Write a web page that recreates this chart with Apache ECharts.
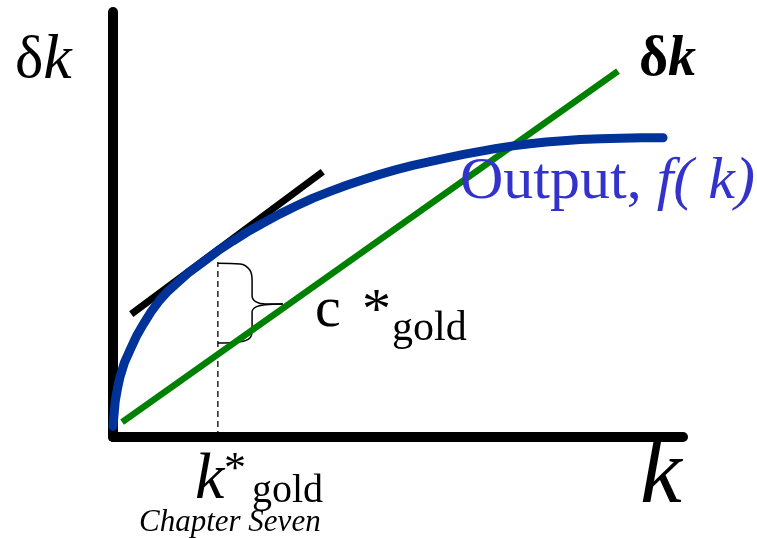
<!DOCTYPE html>
<html>
<head>
<meta charset="utf-8">
<script src="https://cdn.jsdelivr.net/npm/echarts@6/dist/echarts.min.js"></script>
<style>
  html, body { margin: 0; padding: 0; background: #fff; }
  #chart { width: 757px; height: 538px; }
</style>
</head>
<body>
<div id="chart"></div>
<script>
// ---------------- data (axis units: k 0..10, y 0..10)
var outputK = [0, 0.04, 0.08, 0.12, 0.20, 0.30, 0.41, 0.53, 0.67, 0.82, 0.97, 1.12, 1.32, 1.53, 1.84, 2.10, 2.35, 2.64, 2.93, 3.22, 3.51, 3.81, 4.11, 4.40, 4.68, 4.97, 5.26, 5.56, 5.86, 6.15, 6.44, 6.73, 7.02, 7.31, 7.60, 7.90, 8.19, 8.55, 8.90, 9.28, 9.65];
var outputY = [0.25, 0.85, 1.15, 1.40, 1.75, 2.05, 2.37, 2.65, 2.95, 3.22, 3.44, 3.62, 3.86, 4.07, 4.38, 4.61, 4.82, 5.04, 5.25, 5.44, 5.62, 5.78, 5.93, 6.06, 6.18, 6.29, 6.39, 6.48, 6.57, 6.65, 6.72, 6.79, 6.85, 6.90, 6.94, 6.97, 7.00, 7.02, 7.03, 7.04, 7.04];

var deltaK = [0.16, 8.86];
var deltaY = [0.35, 8.61];

var tangentK = [0.32, 3.68];
var tangentY = [2.89, 6.24];

var goldK = [1.84, 1.84];
var goldY = [0, 4.12];

var braceUpperK = [1.84, 2.23, 2.40, 2.44, 2.44, 2.51, 2.67, 2.98];
var braceUpperY = [4.09, 4.07, 3.93, 3.69, 3.32, 3.18, 3.13, 3.13];
var braceLowerK = [2.98, 2.67, 2.51, 2.44, 2.44, 2.40, 2.23, 1.84];
var braceLowerY = [3.13, 3.11, 3.06, 2.94, 2.52, 2.33, 2.24, 2.21];

function zip(xs, ys) {
    return xs.map(function (x, i) { return [x, ys[i]]; });
}

var dom = document.getElementById('chart');
var myChart = echarts.init(dom, null, { renderer: 'canvas' });

var serif = '"Liberation Serif", "DejaVu Serif", serif';

function lineSeries(data, color, width, extra) {
    var s = {
        type: 'line',
        data: data,
        showSymbol: false,
        symbol: 'none',
        silent: true,
        animation: false,
        lineStyle: { color: color, width: width, cap: 'butt' }
    };
    for (var key in extra) s[key] = extra[key];
    return s;
}

function label(left, top, text, size, opts) {
    opts = opts || {};
    return {
        type: 'text',
        left: left,
        top: top,
        z: 100,
        style: {
            text: text,
            fill: opts.color || '#000',
            font: (opts.style || 'normal') + ' ' + (opts.weight || 'normal') + ' ' + size + 'px ' + serif,
            rich: opts.rich,
            shadowColor: opts.shadowColor,
            shadowOffsetX: opts.shadowOffsetX,
            shadowOffsetY: opts.shadowOffsetY
        }
    };
}

var option = {
    animation: false,
    grid: { left: 113, right: 74, top: 12, bottom: 101 },
    xAxis: {
        type: 'value', min: 0, max: 10,
        axisLine: { show: true, onZero: false, lineStyle: { color: '#000', width: 10 } },
        axisTick: { show: false }, axisLabel: { show: false }, splitLine: { show: false }
    },
    yAxis: {
        type: 'value', min: 0, max: 10,
        axisLine: { show: true, onZero: false, lineStyle: { color: '#000', width: 10 } },
        axisTick: { show: false }, axisLabel: { show: false }, splitLine: { show: false }
    },
    series: [
        lineSeries(zip(goldK, goldY), '#000', 1.3, { z: 2, lineStyle: { color: '#000', width: 1.3, type: [6, 4] } }),
        lineSeries(zip(braceUpperK, braceUpperY), '#000', 1.5, { z: 2, smooth: 0.4 }),
        lineSeries(zip(braceLowerK, braceLowerY), '#000', 1.5, { z: 2, smooth: 0.4 }),
        lineSeries(zip(deltaK, deltaY), '#008000', 6.5, { z: 3 }),
        lineSeries(zip(tangentK, tangentY), '#000', 7, { z: 4 }),
        lineSeries(zip(outputK, outputY), '#003399', 9, {
            z: 5,
            lineStyle: { color: '#003399', width: 9, cap: 'round', join: 'round' }
        })
    ],
    graphic: [
        label(15, 29, '{a|δ}{b|k}', 60, { rich: {
            a: { font: 'normal normal 60px ' + serif, fill: '#000' },
            b: { font: 'italic normal 64px ' + serif, fill: '#000' }
        } }),
        label(639, 33, '{a|δ}{b|k}', 56, { rich: {
            a: { font: 'normal bold 56px ' + serif, fill: '#000' },
            b: { font: 'italic bold 56px ' + serif, fill: '#000' }
        } }),
        label(460, 152, '{a|Output, }{b|f( k)}', 60, { color: '#3333CC', rich: {
            a: { font: 'normal normal 60px ' + serif, fill: '#3333CC' },
            b: { font: 'italic normal 60px ' + serif, fill: '#3333CC' }
        } }),
        label(315, 282, 'c', 58),
        label(362, 284, '*', 58),
        label(392, 308, 'gold', 42),
        label(195, 448, 'k', 66, { style: 'italic' }),
        label(224, 448, '*', 44),
        label(252, 471, 'gold', 40),
        label(139, 507, 'Chapter Seven', 31, { style: 'italic' }),
        label(640, 430, 'k', 94, { style: 'italic', shadowColor: 'rgba(0,0,0,0.3)', shadowOffsetX: 3, shadowOffsetY: 3 })
    ]
};

myChart.setOption(option);
</script>
</body>
</html>
